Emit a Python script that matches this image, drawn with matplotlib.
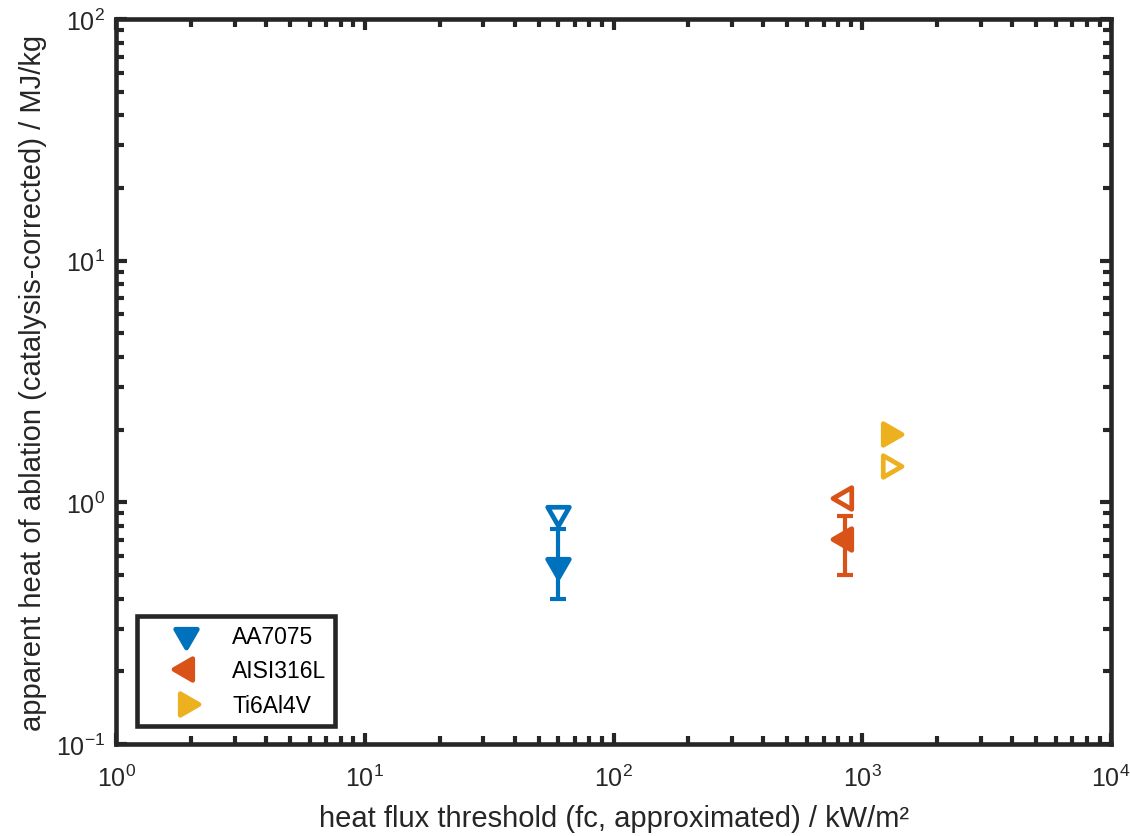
import matplotlib.pyplot as plt
from matplotlib.path import Path
from matplotlib.markers import MarkerStyle

plt.rcParams['font.family'] = ['Liberation Sans', 'DejaVu Sans']

# data (x in kW/m^2, y in MJ/kg)
materials = ['AA7075', 'AISI316L', 'Ti6Al4V']
colors = ['#0072BD', '#D95319', '#EDB120']
x_flux = [60, 852, 1285]
y_filled = [0.55, 0.705, 1.92]
y_open = [0.905, 1.04, 1.42]
err_low = [0.40, 0.50, None]
err_high = [0.775, 0.88, None]

# equilateral triangles centred on their centroid (MATLAB style)
tri_down = Path([(-1, 0.577), (1, 0.577), (0, -1.155), (-1, 0.577)], closed=True)
tri_left = Path([(0.577, 1), (0.577, -1), (-1.155, 0), (0.577, 1)], closed=True)
tri_right = Path([(-0.577, 1), (-0.577, -1), (1.155, 0), (-0.577, 1)], closed=True)
markers = [MarkerStyle(p, joinstyle='miter') for p in (tri_down, tri_left, tri_right)]

fig = plt.figure(figsize=(11.3, 8.37), dpi=100)
ax = fig.add_axes([0.1027, 0.1099, 0.8805, 0.8661])

for i in range(len(materials)):
    c = colors[i]
    if err_low[i] is not None:
        ax.errorbar(x_flux[i], y_filled[i],
                    yerr=[[y_filled[i] - err_low[i]], [err_high[i] - y_filled[i]]],
                    fmt='none', ecolor=c, elinewidth=3, capsize=6, capthick=3)
    ax.plot(x_flux[i], y_open[i], linestyle='none', marker=markers[i], ms=18,
            mfc='white', mec=c, mew=3.4)
    ax.plot(x_flux[i], y_filled[i], linestyle='none', marker=markers[i], ms=18,
            mfc=c, mec=c, mew=3.4, label=materials[i])

ax.set_xscale('log')
ax.set_yscale('log')
ax.set_xlim(1, 1e4)
ax.set_ylim(0.1, 100)

for s in ax.spines.values():
    s.set_linewidth(3.3)
    s.set_color('#262626')
ax.tick_params(which='both', direction='in', top=True, right=True,
               width=3, color='#262626', labelsize=18, labelcolor='#262626')
ax.tick_params(which='major', length=8)
ax.tick_params(which='minor', length=6)
ax.tick_params(axis='x', which='major', pad=15)
ax.tick_params(axis='y', which='major', pad=8)

ax.set_xlabel('heat flux threshold (fc, approximated) / kW/m²', fontsize=21,
              color='#262626', labelpad=9)
ax.set_ylabel('apparent heat of ablation (catalysis-corrected) / MJ/kg', fontsize=21,
              color='#262626', labelpad=6)

leg = ax.legend(loc='lower left', bbox_to_anchor=(0.021, 0.025), fontsize=16.5,
                frameon=True, fancybox=False, edgecolor='#262626', framealpha=1,
                handletextpad=0.25, borderpad=0.4, labelspacing=0.5,
                handlelength=3.5, borderaxespad=0)
leg.get_frame().set_linewidth(3.3)

fig.savefig('out.png', dpi=100)
